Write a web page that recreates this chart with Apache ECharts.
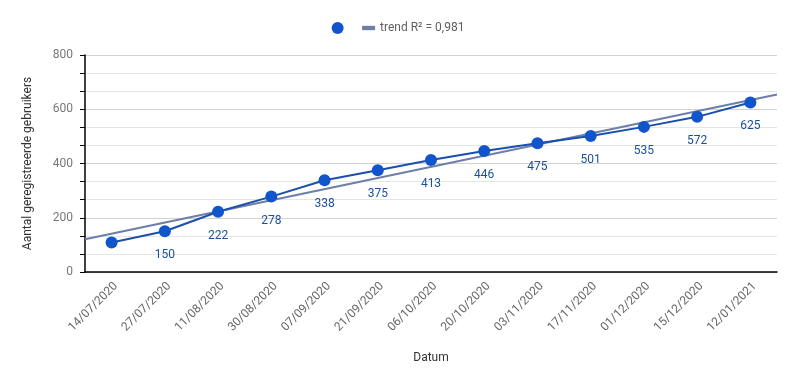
<!DOCTYPE html>
<html><head><meta charset="utf-8">
<script src="https://cdn.jsdelivr.net/npm/echarts@6/dist/echarts.min.js"></script>
<style>html,body{margin:0;padding:0;background:#fff}#c{width:796px;height:383px}</style>
</head><body><div id="c"></div>
<script>
const categories = ['14/07/2020','27/07/2020','11/08/2020','30/08/2020','07/09/2020','21/09/2020','06/10/2020','20/10/2020','03/11/2020','17/11/2020','01/12/2020','15/12/2020','12/01/2021'];
const users = [109,150,222,278,338,375,413,446,475,501,535,572,625];
const yTicks = {min:0, max:800, interval:200};
const trendName = 'trend R² = 0,981';

// linear regression on category index
const n = users.length;
const mx = (n-1)/2;
const my = users.reduce((a,b)=>a+b,0)/n;
let sxy=0,sxx=0;
users.forEach((v,i)=>{sxy+=(i-mx)*(v-my);sxx+=(i-mx)*(i-mx);});
const slope = sxy/sxx, icpt = my - slope*mx;
const x0 = -0.5, x1 = n-0.5;
const trend = [[x0, icpt+slope*x0],[x1, icpt+slope*x1]];

const chart = echarts.init(document.getElementById('c'));
const font = 'Roboto, Arial, sans-serif';
chart.setOption({
  animation:false,
  textStyle:{fontFamily:font},
  grid:{left:85,right:19,top:55,bottom:111},
  legend:{
    top:17, left:'center', itemGap:10, itemWidth:13, itemHeight:12,
    textStyle:{color:'#5f5f5f',fontSize:12,fontFamily:font},
    data:[
      {name:' ', icon:'circle', itemStyle:{color:'#1155cc'}},
      {name:trendName, icon:'path://M0,0H12V4H0Z', itemStyle:{color:'#6b7fa8'}}
    ],
    selectedMode:false
  },
  xAxis:[{
    type:'category', data:categories, boundaryGap:true,
    name:'Datum', nameLocation:'middle', nameGap:80,
    nameTextStyle:{color:'#333',fontSize:12,fontFamily:font},
    axisLine:{show:true,lineStyle:{color:'#000',width:1.5}},
    axisTick:{show:false},
    axisLabel:{rotate:45,color:'#666',fontSize:12,fontFamily:font,margin:8,interval:0,verticalAlign:'top'}
  },{
    type:'value', min:x0, max:x1, show:false
  }],
  yAxis:{
    type:'value', min:yTicks.min, max:yTicks.max, interval:yTicks.interval,
    name:'Aantal geregistreerde gebruikers', nameLocation:'middle', nameGap:51,
    nameTextStyle:{color:'#333',fontSize:12,fontFamily:font},
    axisLine:{show:true,onZero:false,lineStyle:{color:'#000',width:1.5}},
    axisTick:{show:true,inside:false,length:5,lineStyle:{color:'#000',width:1}},
    minorTick:{show:true,splitNumber:3,length:5,lineStyle:{color:'#000',width:1}},
    axisLabel:{color:'#777',fontSize:12,fontFamily:font,margin:12},
    splitLine:{lineStyle:{color:'#d2d2d2'}},
    minorSplitLine:{show:true,lineStyle:{color:'#e6e6e6'}}
  },
  series:[{
    name:trendName, type:'line', xAxisIndex:1, data:trend,
    symbol:'none', lineStyle:{color:'#6b7fa8',width:2}, z:2, silent:true
  },{
    name:' ', type:'line', data:users,
    symbol:'circle', symbolSize:12,
    itemStyle:{color:'#1155cc'},
    lineStyle:{color:'#1a4faa',width:2},
    z:3,
    label:{show:true,position:'bottom',distance:12,color:'#1a4f9e',fontSize:12,fontFamily:font,
      formatter:p=>p.dataIndex===0?'':p.value}
  }]
});
</script></body></html>
